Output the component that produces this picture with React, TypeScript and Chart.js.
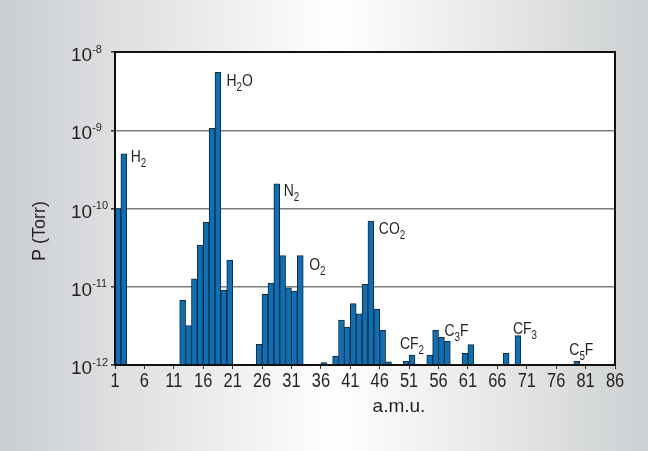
import React, { useEffect, useRef } from "react";
import { Chart, registerables } from "chart.js";

Chart.register(...registerables);

// ---- data ----
const masses = [1, 2, 12, 13, 14, 15, 16, 17, 18, 19, 20, 25, 26, 27, 28, 29, 30, 31, 32, 36, 38, 39, 40, 41, 42, 43, 44, 45, 46, 47, 50, 51, 52, 54, 55, 56, 57, 60, 61, 64, 67, 69, 79];
const pressures = [
  1.0e-10, 5.0e-10,
  6.7e-12, 3.2e-12, 1.26e-11, 3.4e-11, 6.7e-11, 1.06e-9, 5.5e-9, 9.1e-12, 2.2e-11,
  1.84e-12, 8.0e-12, 1.11e-11, 2.06e-10, 2.5e-11, 9.7e-12, 8.8e-12, 2.5e-11,
  1.07e-12, 1.3e-12, 3.76e-12, 3.06e-12, 6.1e-12, 4.5e-12, 1.07e-11, 6.9e-11, 5.15e-12, 2.8e-12, 1.1e-12,
  1.11e-12, 1.34e-12, 1.03e-12, 1.34e-12, 2.77e-12, 2.26e-12, 2.0e-12,
  1.41e-12, 1.82e-12, 1.02e-12, 1.41e-12, 2.37e-12, 1.11e-12,
];
const xTickValues = [1, 6, 11, 16, 21, 26, 31, 36, 41, 46, 51, 56, 61, 66, 71, 76, 81, 86];
const xTickLabels = ["1", "6", "11", "16", "21", "26", "31", "36", "41", "46", "51", "56", "61", "66", "71", "76", "81", "86"];
const yTickValues = [1e-12, 1e-11, 1e-10, 1e-9, 1e-8];
const yTickExponents = ["-12", "-11", "-10", "-9", "-8"];
const peakLabels = ["H_2", "H_2O", "N_2", "O_2", "CO_2", "CF_2", "C_3F", "CF_3", "C_5F"];
const peakMasses = [2, 18, 28, 32, 44, 51, 57, 69, 79];
const xTitle = "a.m.u.";
const yTitle = "P (Torr)";

// ---- styling / placement ----
const FONT = "'Liberation Sans', Arial, sans-serif";
const TEXT = "#231f20";
// placement for each peak label: anchor ('r' = right edge of bar, 'l' = left edge, 'c' = centre), dx, dy (baseline)
const peakPlacement: [string, number, number][] = [
  ["r", 4, 8],
  ["r", 5.5, 13.5],
  ["r", 4, 12],
  ["r", 6, 14],
  ["r", 5, 13],
  ["c", 0, -6],
  ["l", 0, -5],
  ["l", -2, -1.5],
  ["l", -4.5, -6],
];

function drawText(ctx: CanvasRenderingContext2D, s: string, x: number, y: number, size: number, sx: number, align: "left" | "center" | "right" = "left") {
  ctx.save();
  ctx.font = `${size}px ${FONT}`;
  const w = ctx.measureText(s).width * sx;
  let x0 = x;
  if (align === "center") x0 = x - w / 2;
  else if (align === "right") x0 = x - w;
  ctx.translate(x0, y);
  ctx.scale(sx, 1);
  ctx.textAlign = "left";
  ctx.textBaseline = "alphabetic";
  ctx.fillStyle = TEXT;
  ctx.fillText(s, 0, 0);
  ctx.restore();
  return w;
}

function parseFormula(s: string) {
  const segs: { t: string; sub: boolean }[] = [];
  for (let i = 0; i < s.length; i++) {
    if (s[i] === "_") {
      segs.push({ t: s[i + 1], sub: true });
      i++;
    } else segs.push({ t: s[i], sub: false });
  }
  return segs;
}

function formulaWidth(ctx: CanvasRenderingContext2D, s: string, size: number, subSize: number, sx: number) {
  let w = 0;
  for (const seg of parseFormula(s)) {
    ctx.font = `${seg.sub ? subSize : size}px ${FONT}`;
    w += ctx.measureText(seg.t).width * sx;
  }
  return w;
}

function drawFormula(ctx: CanvasRenderingContext2D, s: string, x: number, y: number) {
  const size = 17, subSize = 12, sx = 0.82;
  let cx = x;
  for (const seg of parseFormula(s)) {
    cx += drawText(ctx, seg.t, cx, seg.sub ? y + 5 : y, seg.sub ? subSize : size, sx);
  }
}

const decorPlugin = {
  id: "decor",
  beforeDraw(chart: any) {
    const { ctx, width, height, chartArea } = chart;
    ctx.save();
    const g = ctx.createLinearGradient(0, 0, width, 0);
    g.addColorStop(0, "#cbced1");
    g.addColorStop(0.52, "#ffffff");
    g.addColorStop(1, "#cdd0d2");
    ctx.fillStyle = g;
    ctx.fillRect(0, 0, width, height);
    ctx.fillStyle = "#ffffff";
    ctx.fillRect(chartArea.left, chartArea.top, chartArea.right - chartArea.left, chartArea.bottom - chartArea.top);
    ctx.restore();
  },
  afterDraw(chart: any) {
    const { ctx, chartArea } = chart;
    const xs = chart.scales.x;
    const ys = chart.scales.y;
    ctx.save();
    ctx.strokeStyle = "#111";
    ctx.lineWidth = 2;
    ctx.strokeRect(chartArea.left, chartArea.top, chartArea.right - chartArea.left, chartArea.bottom - chartArea.top);

    // y tick labels 10^n
    yTickValues.forEach((v, i) => {
      const y = ys.getPixelForValue(v);
      const w = drawText(ctx, "10", chartArea.left - 44, y + 9, 19, 1);
      drawText(ctx, yTickExponents[i], chartArea.left - 44 + w, y + 0.5, 11, 1);
    });
    // x tick labels
    xTickValues.forEach((v, i) => {
      const x = xs.getPixelForValue(v);
      drawText(ctx, xTickLabels[i], x, chartArea.bottom + 21.5, 20, 0.82, "center");
    });
    // axis titles
    drawText(ctx, xTitle, chartArea.left + 284, chartArea.bottom + 47, 19, 1, "center");
    ctx.save();
    ctx.translate(chartArea.left - 70, chartArea.top + 179);
    ctx.rotate(-Math.PI / 2);
    drawText(ctx, yTitle, 0, 0, 18, 1, "center");
    ctx.restore();

    // peak labels
    peakLabels.forEach((lab, i) => {
      const m = peakMasses[i];
      const idx = masses.indexOf(m);
      const v = pressures[idx];
      const [anchor, dx, dy] = peakPlacement[i];
      const y = ys.getPixelForValue(v) + dy;
      let x: number;
      if (anchor === "r") x = xs.getPixelForValue(m + 1) + dx;
      else if (anchor === "l") x = xs.getPixelForValue(m) + dx;
      else x = xs.getPixelForValue(m + 0.5) - formulaWidth(ctx, lab, 17, 12, 0.82) / 2 + dx;
      drawFormula(ctx, lab, x, y);
    });
    ctx.restore();
  },
};

export default function App() {
  const ref = useRef<HTMLCanvasElement | null>(null);
  useEffect(() => {
    if (!ref.current) return;
    const chart = new Chart(ref.current, {
      type: "bar",
      data: {
        datasets: [
          {
            data: masses.map((m, i) => ({ x: m + 0.5, y: pressures[i] })),
            backgroundColor: "#0a71b9",
            borderColor: "#1c2633",
            borderWidth: 1,
            barPercentage: 1,
            categoryPercentage: 1,
            borderSkipped: "start",
          },
        ],
      },
      options: {
        animation: false,
        responsive: false,
        devicePixelRatio: 1,
        layout: { padding: { left: 111, top: 52, right: 33, bottom: 82 } },
        plugins: { legend: { display: false }, tooltip: { enabled: false } },
        scales: {
          x: {
            type: "linear",
            min: 1,
            max: 86,
            offset: false,
            afterBuildTicks: (s: any) => {
              s.ticks = xTickValues.map((v) => ({ value: v }));
            },
            ticks: { display: false },
            grid: { display: true, drawOnChartArea: false, drawTicks: true, tickLength: 4, tickColor: "#333", offset: false },
            border: { display: true, color: "#111", width: 2 },
          },
          y: {
            type: "logarithmic",
            min: 1e-12,
            max: 1e-8,
            afterBuildTicks: (s: any) => {
              s.ticks = yTickValues.map((v) => ({ value: v }));
            },
            ticks: { display: false },
            grid: { color: "#7d7d7d", lineWidth: 1.5, drawTicks: true, tickLength: 4, tickColor: "#333" },
            border: { display: true, color: "#111", width: 2 },
          },
        },
      } as any,
      plugins: [decorPlugin],
    });
    return () => chart.destroy();
  }, []);
  return (
    <div style={{ position: "fixed", left: 0, top: 0, width: 648, height: 451 }}>
      <canvas ref={ref} width={648} height={451} style={{ display: "block" }} />
    </div>
  );
}
